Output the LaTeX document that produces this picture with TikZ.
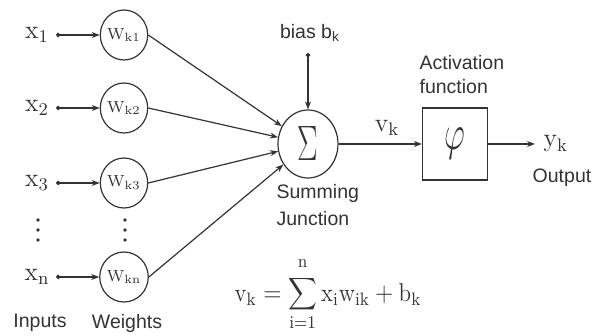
\documentclass[tikz,border=0pt]{standalone}
\usepackage{fontspec}
\setsansfont{Liberation Sans}
\usetikzlibrary{arrows.meta,shapes.geometric}

\begin{document}
\begin{tikzpicture}[x=0.5pt, y=-0.5pt, color=black!80, line width=0.6pt]
  \tikzset{
    peso_node/.style={ellipse, draw, minimum width=22.5pt, minimum height=25pt, inner sep=0pt, font=\fontsize{8}{9}\selectfont},
    suma_node/.style={ellipse, draw, minimum width=30pt, minimum height=34pt, inner sep=0pt, font=\fontsize{28}{30}\selectfont},
    caja_node/.style={rectangle, draw, minimum width=32.5pt, minimum height=36pt, inner sep=0pt, font=\fontsize{30}{32}\selectfont},
    entrada/.style={inner sep=0pt, font=\fontsize{13}{15}\selectfont},
    texto/.style={inner sep=0pt, font=\sffamily\fontsize{9.75}{12}\selectfont},
    flecha/.style={-{Stealth[length=4pt, width=3pt]}},
    flecha_punto/.style={{Circle[length=2.2pt]}-{Stealth[length=4pt, width=3pt]}}
  }

  % Entradas
  \node[entrada] (x1) at (37,35) {$\mathrm{x}_1$};
  \node[entrada] (x2) at (37,108) {$\mathrm{x}_2$};
  \node[entrada] (x3) at (37,183) {$\mathrm{x}_3$};
  \node[entrada] (xn) at (37,277) {$\mathrm{x}_\mathrm{n}$};
  \coordinate (p1) at (56,35);
  \coordinate (p2) at (56,108);
  \coordinate (p3) at (56,183);
  \coordinate (pn) at (56,277);

  % Pesos
  \node[peso_node] (w1) at (124,35) {$\mathrm{W}_\mathrm{k1}$};
  \node[peso_node] (w2) at (124,108) {$\mathrm{W}_\mathrm{k2}$};
  \node[peso_node] (w3) at (124,183) {$\mathrm{W}_\mathrm{k3}$};
  \node[peso_node] (wn) at (124,277) {$\mathrm{W}_\mathrm{kn}$};

  % Puntos suspensivos
  \fill (38,220) circle (0.9pt) (38,230) circle (0.9pt) (38,240) circle (0.9pt);
  \fill (125,220) circle (0.9pt) (125,230) circle (0.9pt) (125,240) circle (0.9pt);

  \draw[flecha_punto] (p1) -- (w1);
  \draw[flecha_punto] (p2) -- (w2);
  \draw[flecha_punto] (p3) -- (w3);
  \draw[flecha_punto] (pn) -- (wn);

  % Sumador
  \node[suma_node] (sum) at (308,144) {\scalebox{0.62}[1]{$\Sigma$}};
  \draw[flecha] (w1.east) -- (sum);
  \draw[flecha] (w2.east) -- (sum);
  \draw[flecha] (w3.east) -- (sum);
  \draw[flecha] (wn.east) -- (sum);

  % Sesgo
  \node[texto] (bias) at (310,33) {bias b\textsubscript{k}};
  \coordinate (pb) at (308,53);
  \draw[flecha_punto] (pb) -- (sum);

  % Funcion de activacion
  \node[caja_node] (act) at (455,144) {\scalebox{0.65}[1]{$\varphi$}};
  \node[entrada] (vk) at (387,128) {$\mathrm{v}_\mathrm{k}$};
  \draw[flecha] (sum) -- (act);
  \coordinate (yout) at (535,144);
  \draw[flecha] (act) -- (yout);
  \node[entrada, anchor=west] (yk) at (543,144) {$\mathrm{y}_\mathrm{k}$};

  % Etiquetas
  \node[texto, align=left, anchor=west, font=\sffamily\fontsize{9.75}{12}\selectfont] (act_lbl) at (419,75) {Activation\\function};
  \node[texto, align=left, anchor=west, font=\sffamily\fontsize{9.75}{13.5}\selectfont] (sum_lbl) at (276,205) {Summing\\Junction};
  \node[texto] (out_lbl) at (562,178) {Output};
  \node[texto] (in_lbl) at (40,323) {Inputs};
  \node[texto] (w_lbl) at (127,323) {Weights};

  % Ecuacion
  \node[inner sep=0pt, font=\fontsize{11.5}{13}\selectfont] (eq) at (328,294)
    {\scalebox{1}[1.12]{$\displaystyle \mathrm{v}_\mathrm{k} = \sum_{\mathrm{i}=1}^{\raisebox{2pt}{$\scriptstyle\mathrm{n}$}} \mathrm{x}_\mathrm{i}\mathrm{w}_\mathrm{ik} + \mathrm{b}_\mathrm{k}$}};

  \useasboundingbox (0,0) rectangle (602,336);
\end{tikzpicture}
\end{document}
